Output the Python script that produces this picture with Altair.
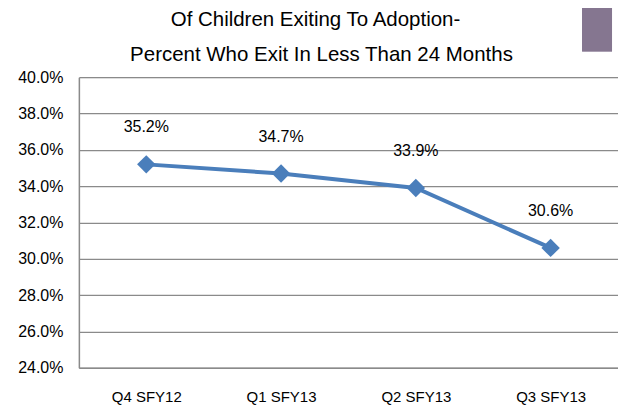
import altair as alt
import pandas as pd

categories = ["Q4 SFY12", "Q1 SFY13", "Q2 SFY13", "Q3 SFY13"]
values = [0.352, 0.347, 0.339, 0.306]
labels = ["35.2%", "34.7%", "33.9%", "30.6%"]
title_lines = ["Of Children Exiting To Adoption-", "Percent Who Exit In Less Than 24 Months"]

df = pd.DataFrame({"cat": categories, "val": values, "lab": labels})

FONT = "Liberation Sans"
BLUE = "#4A7EBB"

x = alt.X("cat:N", sort=categories, title=None,
          scale=alt.Scale(paddingInner=0, paddingOuter=0),
          axis=alt.Axis(labelAngle=0, labelFontSize=15, labelFont=FONT, labelColor="#000",
                        ticks=False, domainColor="#8a8a8a", domainWidth=1.5,
                        labelPadding=22, grid=False))
y = alt.Y("val:Q", title=None,
          scale=alt.Scale(domain=[0.24, 0.40], nice=False, zero=False),
          axis=alt.Axis(format=".1%", values=[0.24, 0.26, 0.28, 0.30, 0.32, 0.34, 0.36, 0.38, 0.40],
                        labelFontSize=16, labelFont=FONT, labelColor="#000",
                        ticks=False, domainColor="#8a8a8a", domainWidth=1.5,
                        labelPadding=16, grid=True, gridColor="#8a8a8a", gridWidth=1.2))

base = alt.Chart(df)

line = base.mark_line(color=BLUE, strokeWidth=4).encode(x=x, y=y)
pts = base.mark_point(shape="diamond", filled=True, size=340, color=BLUE, opacity=1).encode(x=x, y=y)
txt = base.mark_text(dy=-37, fontSize=16, font=FONT, color="#000").encode(x=x, y=y, text="lab:N")
deco = base.mark_rect(color="#857690").encode(
    x=alt.value(504), x2=alt.value(534), y=alt.value(-77), y2=alt.value(-26))

t1 = alt.Chart(pd.DataFrame({"t": [title_lines[0]]})).mark_text(
    fontSize=20.5, font=FONT, color="#000", baseline="middle", align="center").encode(
    x=alt.value(237), y=alt.value(-57), text="t:N")
t2 = alt.Chart(pd.DataFrame({"t": [title_lines[1]]})).mark_text(
    fontSize=20.5, font=FONT, color="#000", baseline="middle", align="center").encode(
    x=alt.value(243), y=alt.value(-22), text="t:N")

chart = alt.layer(deco, line, pts, txt, t1, t2).properties(
    width=540, height=291,
    autosize=alt.AutoSizeParams(type="none"),
    padding={"left": 71, "top": 69, "right": 0, "bottom": 38},
).configure_view(stroke=None).configure(background="white")

chart.save("out.html", embed_options={"renderer": "svg", "actions": False})
